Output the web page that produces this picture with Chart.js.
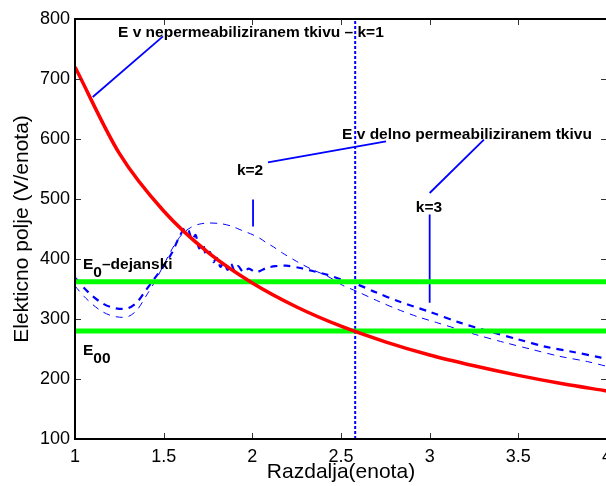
<!DOCTYPE html>
<html>
<head>
<meta charset="utf-8">
<script src="https://cdn.jsdelivr.net/npm/chart.js@4.4.1/dist/chart.umd.min.js"></script>
<style>
html, body { margin: 0; padding: 0; overflow: hidden; background: #fff; }
</style>
</head>
<body>
<canvas id="graf" width="612" height="486"></canvas>
<script>
// oznake na oseh
const xTicks = [1, 1.5, 2, 2.5, 3, 3.5, 4];
const yTicks = [100, 200, 300, 400, 500, 600, 700, 800];

// E v nepermeabiliziranem tkivu (k=1)
const k1X = [1, 1.25, 1.5, 1.75, 2, 2.25, 2.5, 2.75, 3, 3.25, 3.5, 3.75, 4];
const k1Y = [720, 576, 480, 411, 360, 320, 288, 262, 240, 222, 206, 192, 180];

// E v delno permeabiliziranem tkivu, k=2 (tanka crta)
const k2X = [1, 1.05, 1.1, 1.15, 1.2, 1.25, 1.3, 1.35, 1.4, 1.45, 1.5, 1.55, 1.6, 1.65, 1.7, 1.75,
             1.82, 1.88, 1.93, 1.99, 2.04, 2.08, 2.12, 2.17, 2.25, 2.34, 2.42, 2.51, 2.59, 2.7,
             2.82, 2.93, 3.04, 3.15, 3.26, 3.42, 3.58, 3.73, 3.89, 4];
const k2Y = [355, 338, 324, 313, 306, 303, 304, 315, 338, 362, 390, 418, 440, 452, 458, 460,
             459, 455, 449, 442, 435, 427, 420, 410, 396, 382, 372, 356, 346, 331,
             316, 304, 294, 284, 274, 261, 249, 238, 229, 221];

// k=3 (debela crta)
const k3X = [1, 1.05, 1.1, 1.15, 1.2, 1.25, 1.3, 1.35, 1.4, 1.45, 1.5, 1.55, 1.58, 1.62, 1.64,
             1.66, 1.68, 1.7, 1.72, 1.74, 1.76, 1.78, 1.8, 1.82, 1.84, 1.86, 1.88, 1.9, 1.92,
             1.95, 1.98, 2.02, 2.08, 2.13, 2.19, 2.27, 2.34, 2.42, 2.5, 2.59, 2.7, 2.82, 3,
             3.17, 3.34, 3.5, 3.65, 3.81, 3.96, 4];
const k3Y = [369, 352, 338, 327, 320, 317, 318, 328, 348, 368, 388, 412, 432, 452, 448,
             432, 440, 418, 426, 405, 412, 395, 402, 387, 396, 382, 392, 380, 388,
             378, 384, 378, 385, 388, 389, 385, 380, 374, 366, 358, 344, 330, 312,
             294, 279, 266, 254, 245, 236, 234];

// mejne vrednosti polja
const E0 = 362;
const E00 = 280;
const xMeja = 2.58;

const tocke = (xs, ys) => xs.map((x, i) => ({ x: x, y: ys[i] }));
const vodoravna = v => [{ x: 1, y: v }, { x: 4, y: v }];

// kazalci od napisov do krivulj (v enotah grafa)
const kazalci = [
  [{ x: 1.10, y: 670 }, { x: 1.496, y: 771 }],
  [{ x: 2.088, y: 561 }, { x: 2.754, y: 596 }],
  [{ x: 3.306, y: 599 }, { x: 3.0, y: 510 }],
  [{ x: 2.004, y: 499 }, { x: 2.004, y: 454 }],
  [{ x: 3.0, y: 474 }, { x: 3.0, y: 327 }]
];

const napisi = [
  { t: 'E v nepermeabiliziranem tkivu \u2013 k=1', x: 1.2425, y: 770 },
  { t: 'E v delno permeabiliziranem tkivu', x: 2.506, y: 600 },
  { t: 'k=2', x: 1.987, y: 540, sredina: true },
  { t: 'k=3', x: 2.996, y: 479, sredina: true },
  { t: 'E', sub: '0', rep: '\u2013dejanski', x: 1.045, y: 384 },
  { t: 'E', sub: '00', rep: '', x: 1.045, y: 240 }
];

const pisava = '"Liberation Sans", Arial, Helvetica, sans-serif';

const okvir = {
  id: 'okvir',
  afterDatasetsDraw(chart) {
    const { ctx, chartArea: a, scales: { x, y } } = chart;
    ctx.save();
    // napisi
    ctx.fillStyle = '#000';
    ctx.font = 'bold 15.5px ' + pisava;
    ctx.textBaseline = 'alphabetic';
    napisi.forEach(n => {
      let px = x.getPixelForValue(n.x);
      const py = y.getPixelForValue(n.y);
      if (n.sredina) {
        ctx.textAlign = 'center';
        ctx.fillText(n.t, px, py);
        return;
      }
      ctx.textAlign = 'left';
      ctx.fillText(n.t, px, py);
      if (n.sub) {
        px += ctx.measureText(n.t).width;
        ctx.fillText(n.sub, px, py + 8);
        px += ctx.measureText(n.sub).width;
        ctx.fillText(n.rep, px, py);
      }
    });
    // okvir in notranje oznake
    ctx.strokeStyle = '#333';
    ctx.lineWidth = 1;
    ctx.beginPath();
    xTicks.forEach(v => {
      const px = Math.round(x.getPixelForValue(v)) + 0.5;
      ctx.moveTo(px, a.bottom); ctx.lineTo(px, a.bottom - 6);
      ctx.moveTo(px, a.top); ctx.lineTo(px, a.top + 6);
    });
    yTicks.forEach(v => {
      const py = Math.round(y.getPixelForValue(v)) + 0.5;
      ctx.moveTo(a.left, py); ctx.lineTo(a.left + 6, py);
      ctx.moveTo(a.right, py); ctx.lineTo(a.right - 6, py);
    });
    ctx.stroke();
    ctx.strokeStyle = '#000';
    ctx.lineWidth = 2;
    ctx.strokeRect(a.left, a.top, a.right - a.left, a.bottom - a.top);
    ctx.restore();
  }
};

const ctx = document.getElementById('graf').getContext('2d');
new Chart(ctx, {
  type: 'scatter',
  data: {
    datasets: [
      {
        data: tocke(k1X, k1Y), showLine: true, borderColor: '#ff0000', borderWidth: 3.5,
        pointRadius: 0, cubicInterpolationMode: 'monotone', order: 1
      },
      {
        data: tocke(k3X, k3Y), showLine: true, borderColor: '#0000ff', borderWidth: 2.2,
        borderDash: [7, 6], pointRadius: 0, tension: 0.3, order: 3
      },
      {
        data: tocke(k2X, k2Y), showLine: true, borderColor: '#0000ff', borderWidth: 1,
        borderDash: [7, 6], pointRadius: 0, tension: 0.3, order: 4
      },
      {
        data: vodoravna(E0), showLine: true, borderColor: '#00ff00', borderWidth: 5,
        pointRadius: 0, order: 2
      },
      {
        data: vodoravna(E00), showLine: true, borderColor: '#00ff00', borderWidth: 5,
        pointRadius: 0, order: 2
      },
      {
        data: [{ x: xMeja, y: 100 }, { x: xMeja, y: 800 }], showLine: true,
        borderColor: '#0000ff', borderWidth: 2, borderDash: [3, 2], pointRadius: 0, order: 5
      },
      ...kazalci.map(k => ({
        data: k, showLine: true, borderColor: '#0000ff', borderWidth: 1.8,
        pointRadius: 0, order: 6
      }))
    ]
  },
  options: {
    responsive: false,
    animation: false,
    layout: { padding: { top: 19, right: 5, left: 0, bottom: 0 } },
    plugins: {
      legend: { display: false },
      tooltip: { enabled: false }
    },
    scales: {
      x: {
        type: 'linear', min: 1, max: 4,
        afterBuildTicks: s => { s.ticks = xTicks.map(v => ({ value: v })); },
        afterFit: s => { s.height = 47; s.paddingLeft = 0; s.paddingRight = 0; },
        grid: { display: false, drawTicks: false },
        border: { display: false },
        ticks: {
          color: '#000', padding: 7, maxRotation: 0, font: { size: 18, family: pisava },
          callback: v => String(v)
        },
        title: {
          display: true, text: 'Razdalja(enota)', color: '#000',
          font: { size: 21, family: pisava }, padding: { top: 0, bottom: 1 }
        }
      },
      y: {
        min: 100, max: 800,
        afterBuildTicks: s => { s.ticks = yTicks.map(v => ({ value: v })); },
        afterFit: s => { s.width = 75; s.paddingTop = 0; s.paddingBottom = 0; },
        grid: { display: false, drawTicks: false },
        border: { display: false },
        ticks: { color: '#000', padding: 5, font: { size: 18, family: pisava }, callback: v => String(v) },
        title: {
          display: true, text: 'Elekticno polje (V/enota)', color: '#000',
          font: { size: 21, family: pisava }, padding: { top: 10, bottom: 0 }
        }
      }
    }
  },
  plugins: [okvir]
});
</script>
</body>
</html>
